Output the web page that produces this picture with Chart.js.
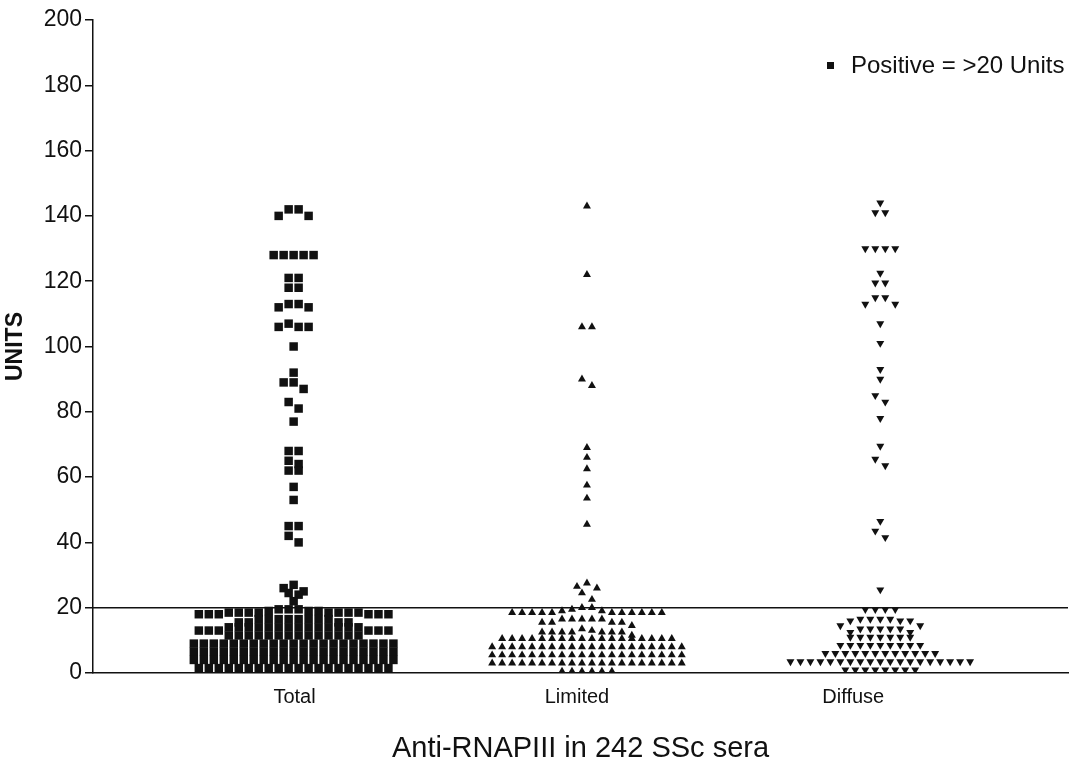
<!DOCTYPE html>
<html>
<head>
<meta charset="utf-8">
<title>Anti-RNAPIII in 242 SSc sera</title>
<script src="https://cdn.jsdelivr.net/npm/chart.js@4.4.1/dist/chart.umd.min.js"></script>
<style>
  html, body { margin: 0; padding: 0; background: #fff; }
  #wrap { width: 1074px; height: 766px; }
</style>
</head>
<body>
<div id="wrap"><canvas id="chart" width="1074" height="766"></canvas></div>
<script>
// categories and cutoff
var groups = ['Total', 'Limited', 'Diffuse'];
var cutoff = 20;
var noteText = 'Positive = >20 Units';

// values (units)
var totalUnits = [
  142, 142, 140, 140,
  128, 128, 128, 128, 128,
  121, 121, 118, 118,
  113, 113, 112, 112,
  107, 106, 106, 106,
  100, 92, 89, 89, 87, 83, 81, 77,
  68, 68, 65, 64, 62, 62, 57, 53,
  45, 45, 42, 40,
  27, 26, 25, 24.5, 24, 22,
  19.5, 19.5, 19.5, 19, 19, 19, 18.5, 18.5, 18.5, 18.5, 18.5, 18.5, 18.5, 18.5, 18, 18, 18, 18, 18, 18,
  16.5, 16.5, 16.5, 16.5, 16.5, 16.5, 16.5, 16.5, 15.5, 15.5, 15.5, 15.5,
  14, 14, 14, 14, 14, 14, 14, 14, 14, 14, 14, 14, 14, 14, 13, 13, 13, 13, 13, 13,
  11.5, 11.5, 11.5, 11.5, 11.5, 11.5, 11.5, 11.5, 11.5, 11.5, 11.5, 11.5, 11.5, 11.5,
  9, 9, 9, 9, 9, 9, 9, 9, 9, 9, 9, 9, 9, 9, 9, 9, 9, 9, 9, 9, 9,
  6.5, 6.5, 6.5, 6.5, 6.5, 6.5, 6.5, 6.5, 6.5, 6.5, 6.5, 6.5, 6.5, 6.5, 6.5, 6.5, 6.5, 6.5, 6.5, 6.5, 6.5,
  4, 4, 4, 4, 4, 4, 4, 4, 4, 4, 4, 4, 4, 4, 4, 4, 4, 4, 4, 4, 4,
  1.5, 1.5, 1.5, 1.5, 1.5, 1.5, 1.5, 1.5, 1.5, 1.5, 1.5, 1.5, 1.5, 1.5, 1.5, 1.5, 1.5, 1.5, 1.5, 1.5
];

var limitedUnits = [
  143, 122, 106, 106, 90, 88, 69, 66, 62.5, 57.5, 53.5, 45.5,
  27.5, 26.5, 26, 24.5, 22.5,
  20, 20, 19.5, 19, 19, 18.5, 18.5, 18.5, 18.5, 18.5, 18.5, 18.5, 18.5, 18.5, 18.5, 18.5,
  16.5, 16.5, 16.5, 16.5, 16.5, 15.5, 15.5, 15.5, 15.5, 14.5,
  13.5, 13, 12.5, 12.5, 12.5, 12.5, 12.5, 12.5, 12.5, 11.5,
  10.5, 10.5, 10.5, 10.5, 10.5, 10.5, 10.5, 10.5, 10.5, 10.5, 10.5, 10.5, 10.5, 10.5, 10.5, 10.5, 10.5, 10.5,
  8, 8, 8, 8, 8, 8, 8, 8, 8, 8, 8, 8, 8, 8, 8, 8, 8, 8, 8, 8,
  5.5, 5.5, 5.5, 5.5, 5.5, 5.5, 5.5, 5.5, 5.5, 5.5, 5.5, 5.5, 5.5, 5.5, 5.5, 5.5, 5.5, 5.5, 5.5, 5.5,
  3, 3, 3, 3, 3, 3, 3, 3, 3, 3, 3, 3, 3, 3, 3, 3, 3, 3, 3, 3,
  0.5, 0.5, 0.5, 0.5, 0.5, 0.5
];

var diffuseUnits = [
  144, 141, 141, 130, 130, 130, 130, 122.5, 119.5, 119.5,
  115, 115, 113, 113, 107, 101, 93, 90, 85, 83, 78,
  69.5, 65.5, 63.5, 46.5, 43.5, 41.5, 25.5,
  19.5, 19.5, 19.5, 19.5,
  16.5, 16.5, 16.5, 16.5, 16, 16, 16, 14.5, 14.5,
  13.5, 13.5, 13.5, 13.5, 13.5, 12.5, 12.5,
  11, 11, 11, 11, 11, 11, 11,
  8.5, 8.5, 8.5, 8.5, 8.5, 8.5, 8.5, 8.5, 8.5,
  6, 6, 6, 6, 6, 6, 6, 6, 6, 6, 6, 6,
  3.5, 3.5, 3.5, 3.5, 3.5, 3.5, 3.5, 3.5, 3.5, 3.5, 3.5, 3.5, 3.5, 3.5, 3.5, 3.5, 3.5, 3.5, 3.5,
  1, 1, 1, 1, 1, 1, 1, 1
];

// axis range and layout
var xMin = 0.316, xMax = 3.64;
var labelPos = [1.003, 1.966, 2.908];
var pxPerUnit = 977 / (xMax - xMin);
var step = 10 / pxPerUnit;   // horizontal spacing of neighbouring points
var rowGap = 2.4;            // values closer than this share a row

// simple row swarm: group close values, spread each row around the column centre
function swarm(values, center) {
  var sorted = values.slice().sort(function(a, b) { return b - a; });
  var rows = [], row = null;
  sorted.forEach(function(v) {
    if (!row || v < row[0] - rowGap) {
      row = [v];
      rows.push(row);
    } else {
      row.push(v);
    }
  });
  var pts = [];
  rows.forEach(function(r) {
    var n = r.length, slots = [];
    for (var i = 0; i < n; i++) slots.push((i - (n - 1) / 2) * step);
    slots.sort(function(a, b) { return Math.abs(a) - Math.abs(b) || a - b; });
    r.forEach(function(v, i) { pts.push({ x: center + slots[i], y: v }); });
  });
  return pts;
}

var ink = '#111';
var fontFamily = '"Liberation Sans", Arial, Helvetica, sans-serif';

var notePlugin = {
  id: 'cutoffNote',
  afterDraw: function(chart) {
    var ctx = chart.ctx, area = chart.chartArea;
    ctx.save();
    ctx.fillStyle = ink;
    ctx.fillRect(area.right - 241, 62, 7, 7);
    ctx.font = '24px ' + fontFamily;
    ctx.textBaseline = 'middle';
    ctx.textAlign = 'left';
    ctx.fillText(noteText, area.right - 217, 66);
    ctx.restore();
  }
};

new Chart(document.getElementById('chart'), {
  type: 'scatter',
  data: {
    datasets: [
      {
        label: groups[0],
        data: swarm(totalUnits, 1),
        pointStyle: 'rect',
        pointRadius: 6,
        backgroundColor: ink,
        borderWidth: 0
      },
      {
        label: groups[1],
        data: swarm(limitedUnits, 2),
        pointStyle: 'triangle',
        pointRadius: 4.6,
        backgroundColor: ink,
        borderWidth: 0
      },
      {
        label: groups[2],
        data: swarm(diffuseUnits, 3),
        pointStyle: 'triangle',
        rotation: 180,
        pointRadius: 4.6,
        backgroundColor: ink,
        borderWidth: 0
      },
      {
        type: 'line',
        label: 'cutoff',
        data: [{ x: xMin, y: cutoff }, { x: xMax, y: cutoff }],
        borderColor: ink,
        borderWidth: 1.5,
        pointRadius: 0,
        fill: false
      }
    ]
  },
  options: {
    responsive: false,
    animation: false,
    layout: { padding: { top: 20, right: 4, left: 0, bottom: 0 } },
    plugins: {
      legend: { display: false },
      tooltip: { enabled: false }
    },
    scales: {
      x: {
        type: 'linear',
        min: xMin,
        max: xMax,
        afterBuildTicks: function(scale) {
          scale.ticks = labelPos.map(function(v) { return { value: v }; });
        },
        afterFit: function(scale) { scale.height = 93; },
        grid: { display: false, drawTicks: false },
        border: { display: true, color: ink, width: 1.5 },
        ticks: {
          autoSkip: false,
          maxRotation: 0,
          padding: 12,
          color: ink,
          font: { family: fontFamily, size: 20 },
          callback: function(value, index) { return groups[index]; }
        },
        title: {
          display: true,
          text: 'Anti-RNAPIII in 242 SSc sera',
          color: ink,
          font: { family: fontFamily, size: 29 },
          padding: { top: 21, bottom: 0 }
        }
      },
      y: {
        min: 0,
        max: 200,
        afterFit: function(scale) { scale.width = 93; },
        grid: { display: true, drawOnChartArea: false, drawTicks: true, tickLength: 8, color: ink, lineWidth: 1.5 },
        border: { display: true, color: ink, width: 1.5 },
        ticks: {
          stepSize: 20,
          padding: 3,
          color: ink,
          font: { family: fontFamily, size: 23 }
        },
        title: {
          display: true,
          text: 'UNITS',
          color: ink,
          font: { family: fontFamily, size: 23, weight: 'bold' },
          padding: { top: 2, bottom: 4 }
        }
      }
    }
  },
  plugins: [notePlugin]
});
</script>
</body>
</html>
